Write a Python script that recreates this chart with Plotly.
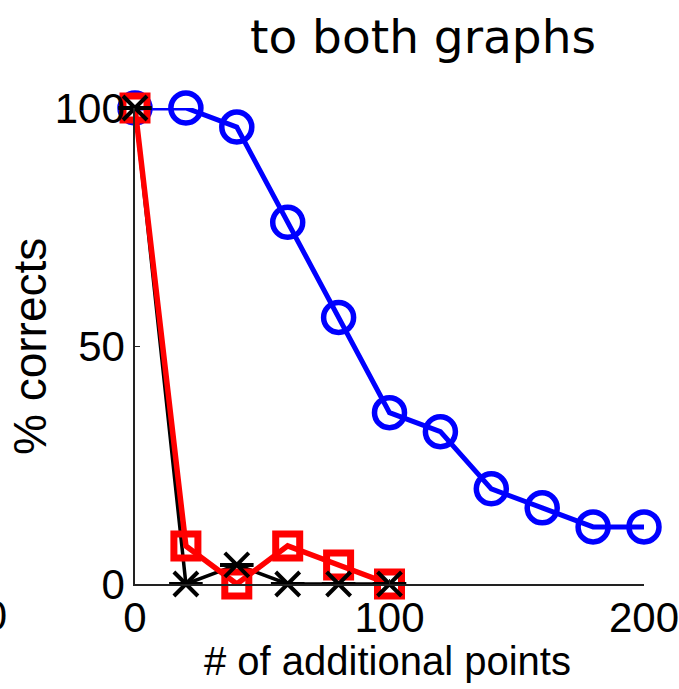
import plotly.graph_objects as go

x_blue = [0, 20, 40, 60, 80, 100, 120, 140, 160, 180, 200]
y_blue = [100, 100, 96, 76, 56, 36, 32, 20, 16, 12, 12]
x_red = [0, 20, 40, 60, 80, 100]
y_red = [100, 8, 0, 8, 4, 0]
x_black = [0, 20, 40, 60, 80, 100]
y_black = [100, 0, 4, 0, 0, 0]

x_ticks = [0, 100, 200]
y_ticks = [0, 50, 100]
title_text = "to both graphs"
x_title = "# of additional points"
y_title = "% corrects"

W, H = 679, 689
L, R, T, B = 135, 35, 108, 105
pw, ph = W - L - R, H - T - B

def px(x):
    return (x - L) / pw

def py(y):
    return (H - B - y) / ph

fig = go.Figure()
fig.add_trace(go.Scatter(
    x=x_blue, y=y_blue, mode="lines+markers", cliponaxis=False,
    line=dict(color="#0000ff", width=5),
    marker=dict(symbol="circle-open", size=30, color="#0000ff",
                line=dict(color="#0000ff", width=5.5)),
    showlegend=False))
fig.add_trace(go.Scatter(
    x=x_black, y=y_black, mode="lines", cliponaxis=False,
    line=dict(color="black", width=3.5), showlegend=False))
fig.add_trace(go.Scatter(
    x=x_red, y=y_red, mode="lines+markers", cliponaxis=False,
    line=dict(color="#ff0000", width=5.5),
    marker=dict(symbol="square-open", size=24, color="#ff0000",
                line=dict(color="#ff0000", width=7)),
    showlegend=False))
for sym in ["x-thin-open", "line-ew-open"]:
    fig.add_trace(go.Scatter(
        x=x_black, y=y_black, mode="markers", cliponaxis=False,
        marker=dict(symbol=sym, size=24, color="black",
                    line=dict(color="black", width=4)),
        showlegend=False))

font_tick = dict(family="Liberation Sans, Arial, sans-serif", size=42, color="black")
font_xt = dict(family="Liberation Sans, Arial, sans-serif", size=40, color="black")
font_yt = dict(family="Liberation Sans, Arial, sans-serif", size=46, color="black")

fig.update_layout(
    width=W, height=H,
    margin=dict(l=L, r=R, t=T, b=B, autoexpand=False),
    paper_bgcolor="white", plot_bgcolor="white",
    xaxis=dict(range=[0, 200], tickvals=x_ticks, ticks="inside", ticklen=5,
               tickcolor="#222", showline=True, linecolor="#222", linewidth=1.5,
               showgrid=False, zeroline=False, tickfont=font_tick,
               ticklabeloverflow="allow", ticklabelstandoff=-4),
    yaxis=dict(range=[0, 100], tickvals=y_ticks, ticks="inside", ticklen=5,
               tickcolor="#222", showline=True, linecolor="#222", linewidth=1.5,
               showgrid=False, zeroline=False, tickfont=font_tick,
               ticklabeloverflow="allow"),
    annotations=[
        dict(text=title_text, xref="paper", yref="paper", x=px(423), y=py(36),
             xanchor="center", yanchor="middle", showarrow=False,
             font=dict(family="DejaVu Sans", size=47, color="black")),
        dict(text=x_title, xref="paper", yref="paper", x=px(387), y=py(661),
             xanchor="center", yanchor="middle", showarrow=False, font=font_xt),
        dict(text=y_title, xref="paper", yref="paper", x=px(30), y=py(347),
             xanchor="center", yanchor="middle", textangle=-90, showarrow=False,
             font=font_yt),
        dict(text="200", xref="paper", yref="paper", x=px(9), y=py(615),
             xanchor="right", yanchor="middle", showarrow=False, font=font_tick),
    ],
)

fig.write_html("out.html", config={"displayModeBar": False},
               post_script="document.body.style.margin='0px';")
